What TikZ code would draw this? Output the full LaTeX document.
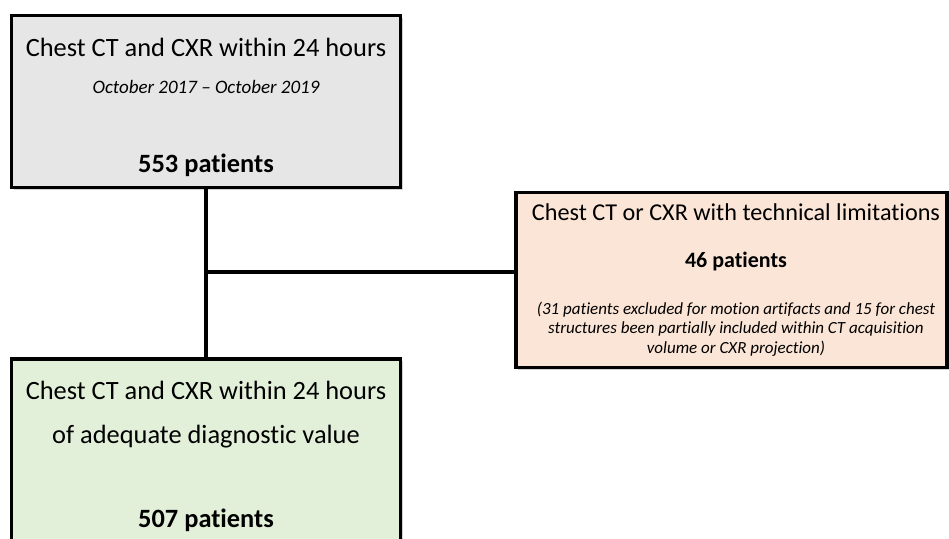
\documentclass[tikz,border=0pt]{standalone}
\usepackage{fontspec}
\setmainfont[Ligatures=NoCommon]{Carlito}
\usetikzlibrary{shadows}
\definecolor{grayfill}{HTML}{E7E6E6}
\definecolor{peachfill}{HTML}{FBE5D6}
\definecolor{greenfill}{HTML}{E2F0D9}
\tikzset{
  box/.style={draw=black, line width=3.2pt, rectangle, inner sep=0pt,
    drop shadow={shadow xshift=2pt, shadow yshift=-2pt, opacity=0.35}},
  big/.style={font=\fontsize{26.4}{30}\selectfont, inner sep=0pt},
  rbig/.style={font=\fontsize{24.2}{28}\selectfont, inner sep=0pt},
  bigbold/.style={font=\bfseries\fontsize{26.4}{30}\selectfont, inner sep=0pt},
  midital/.style={font=\itshape\fontsize{19}{23}\selectfont, inner sep=0pt},
  midbold/.style={font=\bfseries\fontsize{22}{26}\selectfont, inner sep=0pt},
  smallital/.style={font=\itshape\fontsize{17}{19.5}\selectfont, inner sep=0pt, align=center},
  conn/.style={draw=black, line width=3.2pt}
}
\begin{document}
\begin{tikzpicture}[x=1pt, y=-1pt]
\useasboundingbox (0,0) rectangle (949,538);
\clip (0,0) rectangle (949,538);
% boxes
\node[box, fill=grayfill, minimum width=389pt, minimum height=172pt] (top) at (206,101.5) {};
\node[box, fill=peachfill, minimum width=431pt, minimum height=175pt] (right) at (731.5,280) {};
\node[box, fill=greenfill, minimum width=389pt, minimum height=200pt] (bottom) at (206,459) {};
% connectors
\coordinate (j) at (top.south |- 0,272);
\draw[conn] (top.south) -- (bottom.north);
\draw[conn] (j) -- (j -| right.west);
% top box text
\node[big] (t1) at (206,47) {Chest CT and CXR within 24 hours};
\node[midital] (t2) at (206,87) {October 2017 – October 2019};
\node[bigbold] (t3) at (206,165) {553 patients};
% right box text
\node[rbig] (r1) at (736,212) {Chest CT or CXR with technical limitations};
\node[midbold] (r2) at (736,262) {46 patients};
\node[smallital] (r3) at (736,329) {(31 patients excluded for motion artifacts and 15 for chest\\structures been partially included within CT acquisition\\volume or CXR projection)};
% bottom box text
\node[big] (b1) at (206,390) {Chest CT and CXR within 24 hours};
\node[big] (b2) at (206,437) {of adequate diagnostic value};
\node[bigbold] (b3) at (206,520) {507 patients};
\end{tikzpicture}
\end{document}
